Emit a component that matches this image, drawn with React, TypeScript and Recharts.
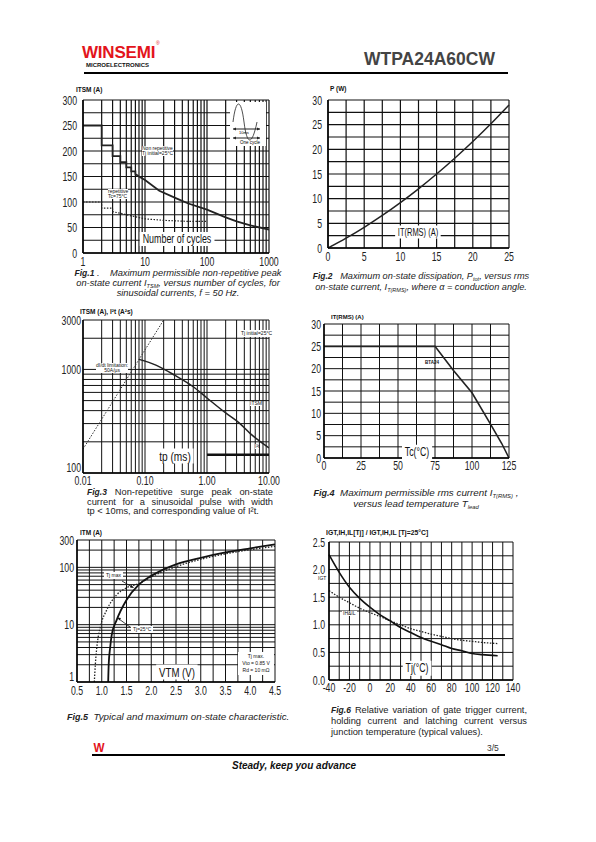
import React from "react";
import { ComposedChart, Line, XAxis, YAxis, CartesianGrid } from "recharts";

const SANS = "'Liberation Sans', Arial, Helvetica, sans-serif";
const INK = "#111";

// Fig.1  ITSM vs number of cycles
const fig1CycleTicks = [1, 2, 3, 4, 5, 6, 7, 8, 9, 10, 20, 30, 40, 50, 60, 70, 80, 90, 100, 200, 300, 400, 500, 600, 700, 800, 900, 1000];
const fig1CycleLabels = [1, 10, 100, 1000];
const fig1ItsmTicks = [0, 25, 50, 75, 100, 125, 150, 175, 200, 225, 250, 275, 300];
const fig1ItsmLabels = [0, 50, 100, 150, 200, 250, 300];
const nonRepCycles = [1, 2, 2, 3, 3, 4, 4, 5, 5, 6, 6, 7, 7, 8, 10, 17, 32, 50, 100, 200, 300, 500, 1000];
const nonRepItsm = [250, 250, 211, 211, 190, 190, 178, 178, 168, 168, 160, 160, 155, 150, 143, 122, 107, 97, 85, 70, 62, 54, 46];
const repCycles = [1, 2, 2, 3, 3, 4, 5, 7, 10, 20, 50, 100];
const repItsm = [100, 100, 88, 88, 81, 78, 75, 71, 67, 64, 62, 62];

// Fig.2  P vs IT(RMS)
const fig2CurrentTicks = [0, 2.5, 5, 7.5, 10, 12.5, 15, 17.5, 20, 22.5, 25];
const fig2CurrentLabels = [0, 5, 10, 15, 20, 25];
const fig2PowerTicks = [0, 2.5, 5, 7.5, 10, 12.5, 15, 17.5, 20, 22.5, 25, 27.5, 30];
const fig2PowerLabels = [0, 5, 10, 15, 20, 25, 30];
const dissCurrent = [0, 2.5, 5, 7.5, 10, 12.5, 15, 17.5, 20, 22.5, 25];
const dissPower = [0, 2.0, 4.2, 6.6, 9.2, 12.0, 15.0, 18.2, 21.6, 25.2, 29.0];

// Fig.3  surge vs pulse width
const fig3TpTicks = [0.01, 0.02, 0.03, 0.04, 0.05, 0.06, 0.07, 0.08, 0.09, 0.1, 0.2, 0.3, 0.4, 0.5, 0.6, 0.7, 0.8, 0.9, 1, 2, 3, 4, 5, 6, 7, 8, 9, 10];
const fig3TpLabelValues = [0.01, 0.1, 1, 10];
const fig3TpLabelText = ["0.01", "0.10", "1.00", "10.00"];
const fig3ValTicks = [100, 200, 300, 400, 500, 600, 700, 800, 900, 1000, 2000, 3000];
const fig3ValLabels = [100, 1000, 3000];
const didtTp = [0.01, 0.2];
const didtVal = [170, 3000];
const surgeTp = [0.08, 0.15, 0.3, 0.6, 1, 2, 3.4, 5, 10];
const surgeItsm = [1250, 1100, 880, 680, 530, 380, 300, 240, 175];
const i2tTp = [1, 10];
const i2tVal = [150, 150];

// Fig.4  IT(RMS) vs Tc
const fig4TempTicks = [0, 12.5, 25, 37.5, 50, 62.5, 75, 87.5, 100, 112.5, 125];
const fig4TempLabels = [0, 25, 50, 75, 100, 125];
const fig4CurrTicks = [0, 2.5, 5, 7.5, 10, 12.5, 15, 17.5, 20, 22.5, 25, 27.5, 30];
const fig4CurrLabels = [0, 5, 10, 15, 20, 25, 30];
const derateTemp = [0, 75, 87.5, 100, 112.5, 120, 125];
const derateCurr = [25, 25, 19.6, 14.6, 7.6, 3.3, 0];

// Fig.5  on-state characteristic
const fig5VTicks = [0.5, 0.75, 1, 1.25, 1.5, 1.75, 2, 2.25, 2.5, 2.75, 3, 3.25, 3.5, 3.75, 4, 4.25, 4.5];
const fig5VLabels = [0.5, 1, 1.5, 2, 2.5, 3, 3.5, 4, 4.5];
const fig5ITicks = [1, 2, 3, 4, 5, 6, 7, 8, 9, 10, 20, 30, 40, 50, 60, 70, 80, 90, 100, 200, 300];
const fig5ILabels = [1, 10, 100, 300];
const vtm25 = [1.13, 1.14, 1.17, 1.2, 1.3, 1.5, 1.75, 2.0, 2.5, 3.0, 3.5, 4.0, 4.5];
const itm25 = [1, 2, 4, 6.5, 12, 27, 50, 71, 113, 147, 182, 215, 252];
const vtmMax = [0.85, 0.87, 0.9, 0.97, 1.1, 1.3, 1.5, 1.75, 2.0, 2.5, 3.0, 3.5, 4.0, 4.5];
const itmMax = [1, 2, 4, 9, 18, 33, 44, 52, 68, 103, 138, 172, 203, 233];

// Fig.6  relative variation vs Tj
const fig6TempTicks = [-40, -30, -20, -10, 0, 10, 20, 30, 40, 50, 60, 70, 80, 90, 100, 110, 120, 130, 140];
const fig6TempLabels = [-40, -20, 0, 20, 40, 60, 80, 100, 120, 140];
const fig6RelTicks = [0, 0.25, 0.5, 0.75, 1, 1.25, 1.5, 1.75, 2, 2.25, 2.5];
const fig6RelLabels = [0, 0.5, 1, 1.5, 2, 2.5];
const relTemp = [-40, -30, -20, -10, 0, 10, 20, 30, 40, 50, 60, 70, 80, 90, 100, 110, 125];
const relIgt = [2.27, 1.95, 1.68, 1.48, 1.32, 1.18, 1.07, 0.95, 0.86, 0.77, 0.7, 0.64, 0.57, 0.53, 0.48, 0.46, 0.44];
const relIhIl = [1.62, 1.5, 1.4, 1.3, 1.22, 1.15, 1.07, 1.0, 0.93, 0.88, 0.83, 0.79, 0.75, 0.72, 0.7, 0.68, 0.66];

type Box = { x: number; y: number; w: number; h: number };
const PL = 40;
const PT = 10;
const PR = 16;
const PB = 24;

const pts = (xs: number[], ys: number[]) => xs.map((x, i) => ({ x, y: ys[i] }));
const only = (labels: number[], fmt?: (v: number) => string) => (v: number) =>
  labels.includes(v) ? (fmt ? fmt(v) : String(v)) : "";

// narrow tick text, like the condensed face in the datasheet
// liftAt: the bottom y label sits above the corner, as in the print
const narrowTick = (fmt: (v: number) => string, side: "x" | "y", liftAt?: number) => (props: any) => {
  const v = props.payload.value;
  const s = fmt(v);
  if (!s) return <g />;
  const lift = liftAt !== undefined && v === liftAt ? 6 : 0;
  return (
    <text
      transform={`translate(${props.x},${props.y - lift}) scale(0.7,1)`}
      textAnchor={side === "x" ? "middle" : "end"}
      dy={side === "x" ? "0.71em" : "0.36em"}
      fontSize={12.5}
      fill="#222"
      fontFamily={SANS}
    >
      {s}
    </text>
  );
};

const axisStyle = { stroke: "#000", strokeWidth: 1.5 };

function Plot({ box, children }: { box: Box; children: React.ReactNode }) {
  return (
    <div style={{ position: "absolute", left: box.x - PL, top: box.y - PT }}>
      <ComposedChart
        width={box.w + PL + PR}
        height={box.h + PT + PB}
        margin={{ top: PT, right: PR, bottom: 0, left: 0 }}
      >
        {children}
      </ComposedChart>
    </div>
  );
}

function Txt({ x, y, size, children, style }: { x: number; y: number; size: number; children: React.ReactNode; style?: React.CSSProperties }) {
  return (
    <div style={{ position: "absolute", left: x, top: y, fontSize: size, lineHeight: 1, fontFamily: SANS, whiteSpace: "nowrap", color: "#111", ...style }}>
      {children}
    </div>
  );
}

function Tag({ x, y, size, sx = 0.72, children }: { x: number; y: number; size: number; sx?: number; children: React.ReactNode }) {
  return (
    <div
      style={{
        position: "absolute", left: x, top: y, transform: `translate(-50%, -50%) scaleX(${sx})`, background: "#fff",
        padding: "1px 4px", fontSize: size, lineHeight: 1, fontFamily: SANS, whiteSpace: "nowrap", color: "#111",
      }}
    >
      {children}
    </div>
  );
}

function Caption({ x, y, w, lh, size, italic, lines, justify }: { x: number; y: number; w: number; lh: number; size: number; italic?: boolean; lines: React.ReactNode[]; justify?: boolean }) {
  return (
    <div style={{ position: "absolute", left: x, top: y, width: w, fontSize: size, lineHeight: `${lh}px`, fontStyle: italic ? "italic" : "normal", color: "#222", fontFamily: SANS }}>
      {lines.map((l, i) => (
        <div
          key={i}
          style={{
            whiteSpace: "nowrap",
            textAlign: justify ? "justify" : "center",
            textAlignLast: justify ? (i === lines.length - 1 ? "left" : "justify") : "center",
          }}
        >
          {l}
        </div>
      ))}
    </div>
  );
}

const sub = (t: string) => (
  <span style={{ fontSize: "0.6em", position: "relative", top: "0.35em" }}>{t}</span>
);
const fig = (t: string) => <b style={{ fontSize: "0.92em", fontStyle: "italic" }}>{t}</b>;

export default function App() {
  const line = { dot: false, isAnimationActive: false, type: "linear" as const, dataKey: "y" };
  const xCommon = { dataKey: "x", type: "number" as const, interval: 0, tickLine: false, axisLine: axisStyle, height: PB };
  const yCommon = { type: "number" as const, interval: 0, tickLine: false, axisLine: axisStyle, width: PL };
  return (
    <div style={{ position: "absolute", left: 0, top: 0, width: 596, height: 842, background: "#fff", fontFamily: SANS }}>
      {/* header */}
      <Txt x={82} y={44} size={17} style={{ color: "#e3141b", fontWeight: 900, letterSpacing: -0.2 }}>WINSEMI</Txt>
      <Txt x={156} y={41} size={5} style={{ color: "#e3141b" }}>®</Txt>
      <Txt x={86} y={62} size={6} style={{ fontWeight: 700, letterSpacing: 0 }}>MICROELECTRONICS</Txt>
      <Txt x={364} y={51} size={17.5} style={{ fontWeight: 700, color: "#444" }}>WTPA24A60CW</Txt>
      <div style={{ position: "absolute", left: 84, top: 72, width: 424, height: 2, background: "#000" }} />

      {/* Fig.1 */}
      <Plot box={{ x: 83, y: 100, w: 186, h: 153 }}>
        <CartesianGrid stroke={INK} strokeWidth={1.2} />
        <XAxis {...xCommon} scale="log" domain={[1, 1000]} allowDataOverflow ticks={fig1CycleTicks}
          tick={narrowTick(only(fig1CycleLabels), "x")} tickSize={3} tickMargin={1} />
        <YAxis {...yCommon} domain={[0, 300]} ticks={fig1ItsmTicks} tick={narrowTick(only(fig1ItsmLabels), "y")} tickSize={4} tickMargin={2} />
        <Line {...line} data={pts(nonRepCycles, nonRepItsm)} stroke="#222" strokeWidth={1.8} />
        <Line {...line} data={pts(repCycles, repItsm)} stroke="#222" strokeWidth={1.2} strokeDasharray="1.5 1.5" />
      </Plot>

      {/* Fig.2 */}
      <Plot box={{ x: 328, y: 100, w: 181, h: 148 }}>
        <CartesianGrid stroke={INK} strokeWidth={1.2} />
        <XAxis {...xCommon} domain={[0, 25]} ticks={fig2CurrentTicks} tick={narrowTick(only(fig2CurrentLabels), "x")} tickSize={3} tickMargin={1} />
        <YAxis {...yCommon} domain={[0, 30]} ticks={fig2PowerTicks} tick={narrowTick(only(fig2PowerLabels), "y")} tickSize={4} tickMargin={2} />
        <Line {...line} type="monotone" data={pts(dissCurrent, dissPower)} stroke="#222" strokeWidth={1.5} />
      </Plot>

      {/* Fig.3 */}
      <Plot box={{ x: 83, y: 320, w: 186, h: 153 }}>
        <CartesianGrid stroke={INK} strokeWidth={1} />
        <XAxis {...xCommon} scale="log" domain={[0.01, 10]} allowDataOverflow ticks={fig3TpTicks}
          tick={narrowTick((v: number) => { const i = fig3TpLabelValues.indexOf(v); return i < 0 ? "" : fig3TpLabelText[i]; }, "x")}
          tickSize={2} tickMargin={1} />
        <YAxis {...yCommon} scale="log" domain={[100, 3000]} allowDataOverflow ticks={fig3ValTicks}
          tick={narrowTick(only(fig3ValLabels), "y", 100)} tickSize={1} tickMargin={1} />
        <Line {...line} data={pts(didtTp, didtVal)} stroke="#333" strokeWidth={1} strokeDasharray="1.5 1.5" />
        <Line {...line} type="monotone" data={pts(surgeTp, surgeItsm)} stroke="#222" strokeWidth={1.5} />
        <Line {...line} data={pts(i2tTp, i2tVal)} stroke="#111" strokeWidth={2.5} />
      </Plot>

      {/* Fig.4 */}
      <Plot box={{ x: 324, y: 324, w: 185, h: 134 }}>
        <CartesianGrid stroke={INK} strokeWidth={1} />
        <XAxis {...xCommon} domain={[0, 125]} ticks={fig4TempTicks} tick={narrowTick(only(fig4TempLabels), "x")} tickSize={2} tickMargin={1} />
        <YAxis {...yCommon} domain={[0, 30]} ticks={fig4CurrTicks} tick={narrowTick(only(fig4CurrLabels), "y")} tickSize={2} tickMargin={1} />
        <Line {...line} data={pts(derateTemp, derateCurr)} stroke="#222" strokeWidth={1.6} />
      </Plot>

      {/* Fig.5 */}
      <Plot box={{ x: 77, y: 540, w: 198, h: 142 }}>
        <CartesianGrid stroke={INK} strokeWidth={1} />
        <XAxis {...xCommon} domain={[0.5, 4.5]} ticks={fig5VTicks} tick={narrowTick(only(fig5VLabels, (v) => v.toFixed(1)), "x")} tickSize={3} tickMargin={1} />
        <YAxis {...yCommon} scale="log" domain={[1, 300]} allowDataOverflow ticks={fig5ITicks}
          tick={narrowTick(only(fig5ILabels), "y", 1)} tickSize={2} tickMargin={1} />
        <Line {...line} type="monotone" data={pts(vtmMax, itmMax)} stroke="#222" strokeWidth={1.3} strokeDasharray="1.5 1.5" />
        <Line {...line} type="monotone" data={pts(vtm25, itm25)} stroke="#111" strokeWidth={1.8} />
      </Plot>

      {/* Fig.6 */}
      <Plot box={{ x: 329, y: 542, w: 184, h: 138 }}>
        <CartesianGrid stroke={INK} strokeWidth={1} />
        <XAxis {...xCommon} domain={[-40, 140]} ticks={fig6TempTicks} tick={narrowTick(only(fig6TempLabels), "x")} tickSize={2} tickMargin={1} />
        <YAxis {...yCommon} domain={[0, 2.5]} ticks={fig6RelTicks} tick={narrowTick(only(fig6RelLabels, (v) => v.toFixed(1)), "y")} tickSize={3} tickMargin={1} />
        <Line {...line} type="monotone" data={pts(relTemp, relIhIl)} stroke="#222" strokeWidth={1.3} strokeDasharray="1.5 1.5" />
        <Line {...line} type="monotone" data={pts(relTemp, relIgt)} stroke="#111" strokeWidth={1.6} />
      </Plot>

      {/* axis headers */}
      <Txt x={76} y={87} size={6.5} style={{ fontWeight: 700 }}>ITSM (A)</Txt>
      <Txt x={330} y={86} size={6.5} style={{ fontWeight: 700 }}>P (W)</Txt>
      <Txt x={80} y={309} size={6.5} style={{ fontWeight: 700 }}>ITSM (A), I²t (A²s)</Txt>
      <Txt x={331} y={314} size={6} style={{ fontWeight: 700 }}>IT(RMS) (A)</Txt>
      <Txt x={80} y={530} size={6.5} style={{ fontWeight: 700 }}>ITM (A)</Txt>
      <Txt x={326} y={529} size={8} style={{ fontWeight: 700, transform: "scaleX(0.85)", transformOrigin: "left" }}>IGT,IH,IL[Tj] / IGT,IH,IL [Tj=25°C]</Txt>

      {/* Fig.1 notes */}
      <Txt x={142} y={146} size={5} style={{ background: "#fff" }}>Non repetitive<br />Tj initial=25°C</Txt>
      <Txt x={108} y={189} size={5} style={{ background: "#fff" }}>repetitive<br />Tc=75°C</Txt>
      <Tag x={177} y={239} size={12} sx={0.74}>Number of cycles</Tag>
      <svg style={{ position: "absolute", left: 230, top: 102 }} width={36} height={44}>
        <rect x={0} y={0} width={36} height={44} fill="#fff" />
        <path d="M3 20 C6 -4, 11 -4, 14 20 S22 44, 27 20" fill="none" stroke="#222" strokeWidth={0.8} />
        <line x1={3} y1={27} x2={30} y2={27} stroke="#222" strokeWidth={1} />
        <path d="M3 27 l3 -1.5 v3 z M30 27 l-3 -1.5 v3 z" fill="#222" />
        <line x1={3} y1={36} x2={30} y2={36} stroke="#222" strokeWidth={1} />
        <path d="M3 36 l3 -1.5 v3 z M30 36 l-3 -1.5 v3 z" fill="#222" />
        <text x={9} y={32} fontSize={4} fontFamily={SANS}>10ms</text>
        <text x={10} y={42} fontSize={4.5} fontFamily={SANS}>One cycle</text>
      </svg>

      {/* Fig.2 notes */}
      <Tag x={418} y={232} size={11} sx={0.68}>IT(RMS) (A)</Tag>

      {/* Fig.3 notes */}
      <Txt x={240} y={330} size={5} style={{ background: "#fff", padding: 1 }}>Tj initial=25°C</Txt>
      <Txt x={96} y={363} size={5} style={{ background: "#fff", textAlign: "center" }}>dI/dt limitation:<br />50A/µs</Txt>
      <Txt x={250} y={401} size={5} style={{ background: "#fff" }}>ITSM</Txt>
      <Txt x={255} y={444} size={5} style={{ background: "#fff" }}>I²t</Txt>
      <Tag x={175} y={456} size={13} sx={0.78}>tp (ms)</Tag>

      {/* Fig.4 notes */}
      <Txt x={425} y={361} size={4.5} style={{ fontWeight: 700 }}>BTA24</Txt>
      <Tag x={417} y={452} size={12.5} sx={0.7}>Tc(°C)</Tag>

      {/* Fig.5 notes */}
      <Txt x={104} y={572} size={5} style={{ background: "#fff", padding: "1px 2px" }}>Tj max</Txt>
      <Txt x={131} y={626} size={5} style={{ background: "#fff", padding: "1px 2px" }}>Tj=25°C</Txt>
      <svg style={{ position: "absolute", left: 110, top: 575 }} width={40} height={60}>
        <line x1={12} y1={6} x2={22} y2={12} stroke="#111" strokeWidth={0.8} />
        <path d="M24 13 l-4 -0.5 l1.5 -2.5 z" fill="#111" />
        <line x1={20} y1={52} x2={9} y2={44} stroke="#111" strokeWidth={0.8} />
        <path d="M7 42.5 l4 0.5 l-1.5 2.5 z" fill="#111" />
      </svg>
      <Txt x={238} y={652} size={5} style={{ background: "#fff", textAlign: "center", lineHeight: "7px", width: 36, padding: "1px 0" }}>
        Tj max.<br />Vto = 0.85 V<br />Rd = 10 mΩ
      </Txt>
      <Tag x={177} y={672} size={13} sx={0.74}>VTM (V)</Tag>

      {/* Fig.6 notes */}
      <Txt x={316} y={576} size={5} style={{ background: "#fff", padding: "0 2px" }}>IGT</Txt>
      <Txt x={342} y={611} size={5} style={{ background: "#fff", padding: "0 1px" }}>IH&amp;IL</Txt>
      <Tag x={417} y={668} size={12.5} sx={0.7}>Tj(°C)</Tag>

      {/* captions */}
      <Caption x={64} y={269} w={228} lh={9.6} size={9.3} italic lines={[
        <>{fig("Fig.1")} .&nbsp;&nbsp;&nbsp; Maximum permissible non-repetitive peak</>,
        <>on-state current I{sub("TSM")}, versus number of cycles, for</>,
        <>sinusoidal currents, f = 50 Hz.</>,
      ]} />
      <Caption x={304} y={271} w={234} lh={10} size={9.2} italic lines={[
        <>{fig("Fig.2")}&nbsp;&nbsp; Maximum on-state dissipation, P{sub("tot")}, versus rms</>,
        <>on-state current, I{sub("T(RMS)")}, where α = conduction angle.</>,
      ]} />
      <Caption x={87} y={488} w={186} lh={9.6} size={9.3} justify lines={[
        <>{fig("Fig.3")} Non-repetitive surge peak on-state</>,
        <>current for a sinusoidal pulse with width</>,
        <>tp &lt; 10ms, and corresponding value of I²t.</>,
      ]} />
      <Caption x={298} y={488} w={236} lh={10} size={9.8} italic lines={[
        <>{fig("Fig.4")}&nbsp; Maximum permissible rms current I{sub("T(RMS)")} ,</>,
        <>versus lead temperature T{sub("lead")}</>,
      ]} />
      <div style={{ position: "absolute", left: 67, top: 711, fontSize: 9.8, lineHeight: "11px", fontStyle: "italic", color: "#222", whiteSpace: "nowrap" }}>
        {fig("Fig.5")}&nbsp; Typical and maximum on-state characteristic.
      </div>
      <Caption x={331} y={705} w={196} lh={10.8} size={9.3} justify lines={[
        <>{fig("Fig.6")} Relative variation of gate trigger current,</>,
        <>holding current and latching current versus</>,
        <>junction temperature (typical values).</>,
      ]} />

      {/* footer */}
      <Txt x={93} y={741} size={13} style={{ color: "#e3141b", fontWeight: 900, transform: "scaleX(0.9)" }}>W</Txt>
      <Txt x={487} y={744} size={8.5} style={{ color: "#333" }}>3/5</Txt>
      <div style={{ position: "absolute", left: 92, top: 754, width: 413, height: 2, background: "#000" }} />
      <Txt x={232} y={761} size={10} style={{ fontWeight: 700, fontStyle: "italic" }}>Steady, keep you advance</Txt>
    </div>
  );
}
